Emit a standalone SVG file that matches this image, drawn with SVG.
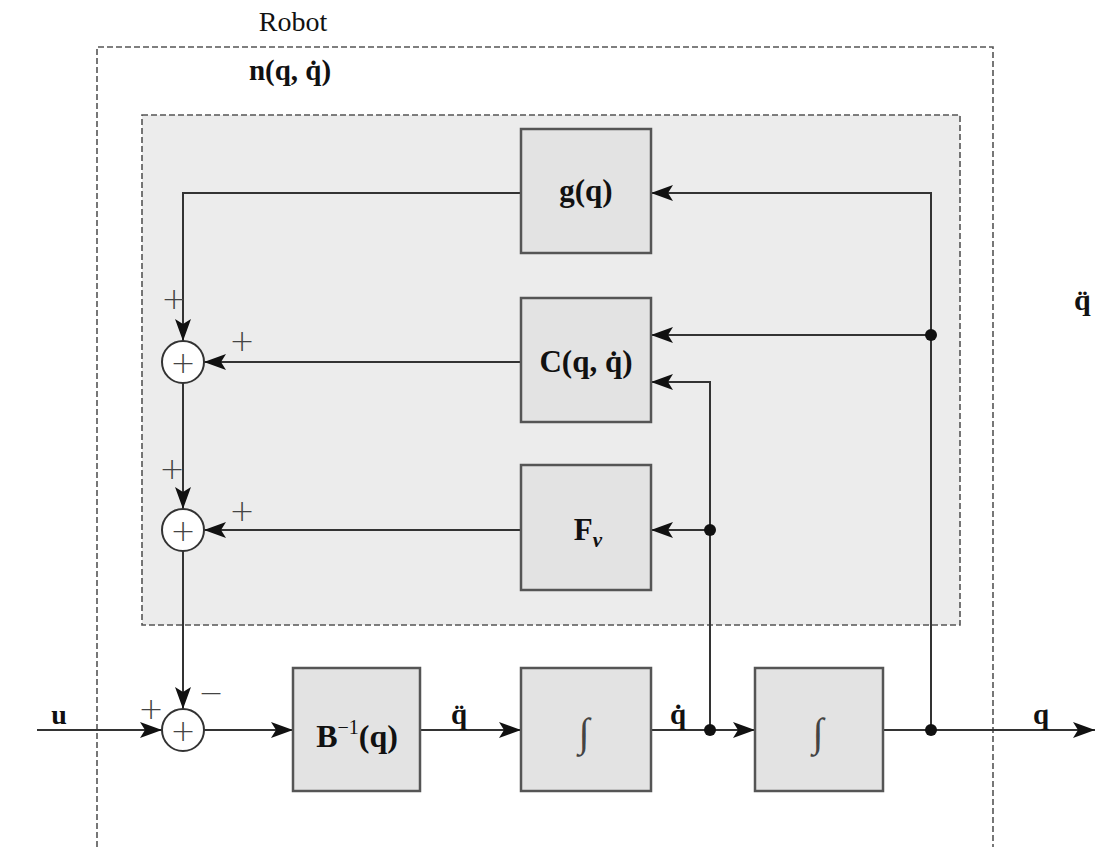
<svg xmlns="http://www.w3.org/2000/svg" width="1095" height="847" viewBox="0 0 1095 847">
<defs>
<marker id="ah" markerWidth="22" markerHeight="16" refX="22" refY="8" orient="auto" markerUnits="userSpaceOnUse">
<path d="M0,0 L22,8 L0,16 L5,8 Z" fill="#111"/>
</marker>
<style>
.blk{fill:#e3e3e3;stroke:#555;stroke-width:2.5}
.sum{fill:#fff;stroke:#333;stroke-width:2}
.ln{fill:none;stroke:#333;stroke-width:2}
.arr{fill:none;stroke:#333;stroke-width:2;marker-end:url(#ah)}
.dot{fill:#111}
.t{font-family:"Liberation Serif",serif;font-weight:bold;fill:#111}
.r{font-family:"Liberation Serif",serif;font-weight:normal;fill:#111}
.pm{font-family:"DejaVu Sans",sans-serif;font-size:30px;font-weight:200;fill:#444}
.int{font-family:"Liberation Serif",serif;font-size:40px;fill:#444;font-style:italic}
</style>
</defs>
<rect width="1095" height="847" fill="#fff"/>
<g id="robot-box">
<path d="M97,847 L97,47 L993,47 L993,847" fill="none" stroke="#555" stroke-width="1.6" stroke-dasharray="6,3"/>
<text x="293" y="31" class="r" font-size="28" text-anchor="middle">Robot</text>
</g>
<g id="n-box">
<rect x="142" y="115" width="818" height="510" fill="#ececec" stroke="#555" stroke-width="1.6" stroke-dasharray="6,3"/>
<text x="290" y="80" class="t" font-size="29" text-anchor="middle">n(q, q̇)</text>
</g>
<g id="connectors">
<path class="ln" d="M37,730 L97,730"/>
<path class="arr" d="M97,730 L162,730"/>
<path class="arr" d="M204,730 L293,730"/>
<path class="arr" d="M420,730 L521,730"/>
<path class="arr" d="M651,730 L755,730"/>
<path class="arr" d="M883,730 L1095,730"/>
<path class="arr" d="M931,730 L931,193 L651,193"/>
<path class="arr" d="M931,335 L651,335"/>
<path class="arr" d="M710,730 L710,382 L651,382"/>
<path class="arr" d="M710,530 L651,530"/>
<path class="arr" d="M521,193 L183,193 L183,341"/>
<path class="arr" d="M521,362 L204,362"/>
<path class="arr" d="M183,383 L183,509"/>
<path class="arr" d="M521,530 L204,530"/>
<path class="arr" d="M183,551 L183,709"/>
<circle class="dot" cx="931" cy="335" r="6"/>
<circle class="dot" cx="710" cy="530" r="6"/>
<circle class="dot" cx="710" cy="730" r="6"/>
<circle class="dot" cx="931" cy="730" r="6"/>
</g>
<g id="g-block">
<rect class="blk" x="521" y="129" width="130" height="124"/>
<text x="586" y="201" class="t" font-size="31" text-anchor="middle">g(q)</text>
</g>
<g id="c-block">
<rect class="blk" x="521" y="298" width="130" height="124"/>
<text x="586" y="372" class="t" font-size="31" text-anchor="middle">C(q, q̇)</text>
</g>
<g id="fv-block">
<rect class="blk" x="521" y="465" width="130" height="125"/>
<text x="588" y="540" class="t" font-size="31" text-anchor="middle">F<tspan font-size="21" font-style="italic" dy="7">ν</tspan></text>
</g>
<g id="b-block">
<rect class="blk" x="293" y="668" width="127" height="123"/>
<text x="357" y="747" class="t" font-size="32" text-anchor="middle">B<tspan class="r" font-size="20" dy="-13">−1</tspan><tspan dy="13">(q)</tspan></text>
</g>
<g id="int1">
<rect class="blk" x="521" y="668" width="130" height="123"/>
<text x="584" y="746" class="int" text-anchor="middle">∫</text>
</g>
<g id="int2">
<rect class="blk" x="755" y="668" width="128" height="123"/>
<text x="818" y="746" class="int" text-anchor="middle">∫</text>
</g>
<g id="sum1">
<circle class="sum" cx="183" cy="362" r="21"/>
<text x="183" y="373" class="pm" text-anchor="middle">+</text>
</g>
<g id="sum2">
<circle class="sum" cx="183" cy="530" r="21"/>
<text x="183" y="541" class="pm" text-anchor="middle">+</text>
</g>
<g id="sum3">
<circle class="sum" cx="183" cy="730" r="21"/>
<text x="183" y="741" class="pm" text-anchor="middle">+</text>
</g>
<g id="labels">
<text x="174" y="309" class="pm" text-anchor="middle">+</text>
<text x="242" y="351" class="pm" text-anchor="middle">+</text>
<text x="172" y="479" class="pm" text-anchor="middle">+</text>
<text x="242" y="521" class="pm" text-anchor="middle">+</text>
<text x="151" y="719" class="pm" text-anchor="middle">+</text>
<text x="211" y="703" class="pm" text-anchor="middle">−</text>
<text x="59" y="724" class="t" font-size="28" text-anchor="middle">u</text>
<text x="459" y="724" class="t" font-size="29" text-anchor="middle">q̈</text>
<text x="678" y="724" class="t" font-size="29" text-anchor="middle">q̇</text>
<text x="1041" y="724" class="t" font-size="29" text-anchor="middle">q</text>
<text x="1074" y="310" class="t" font-size="30">q̈</text>
</g>
</svg>
